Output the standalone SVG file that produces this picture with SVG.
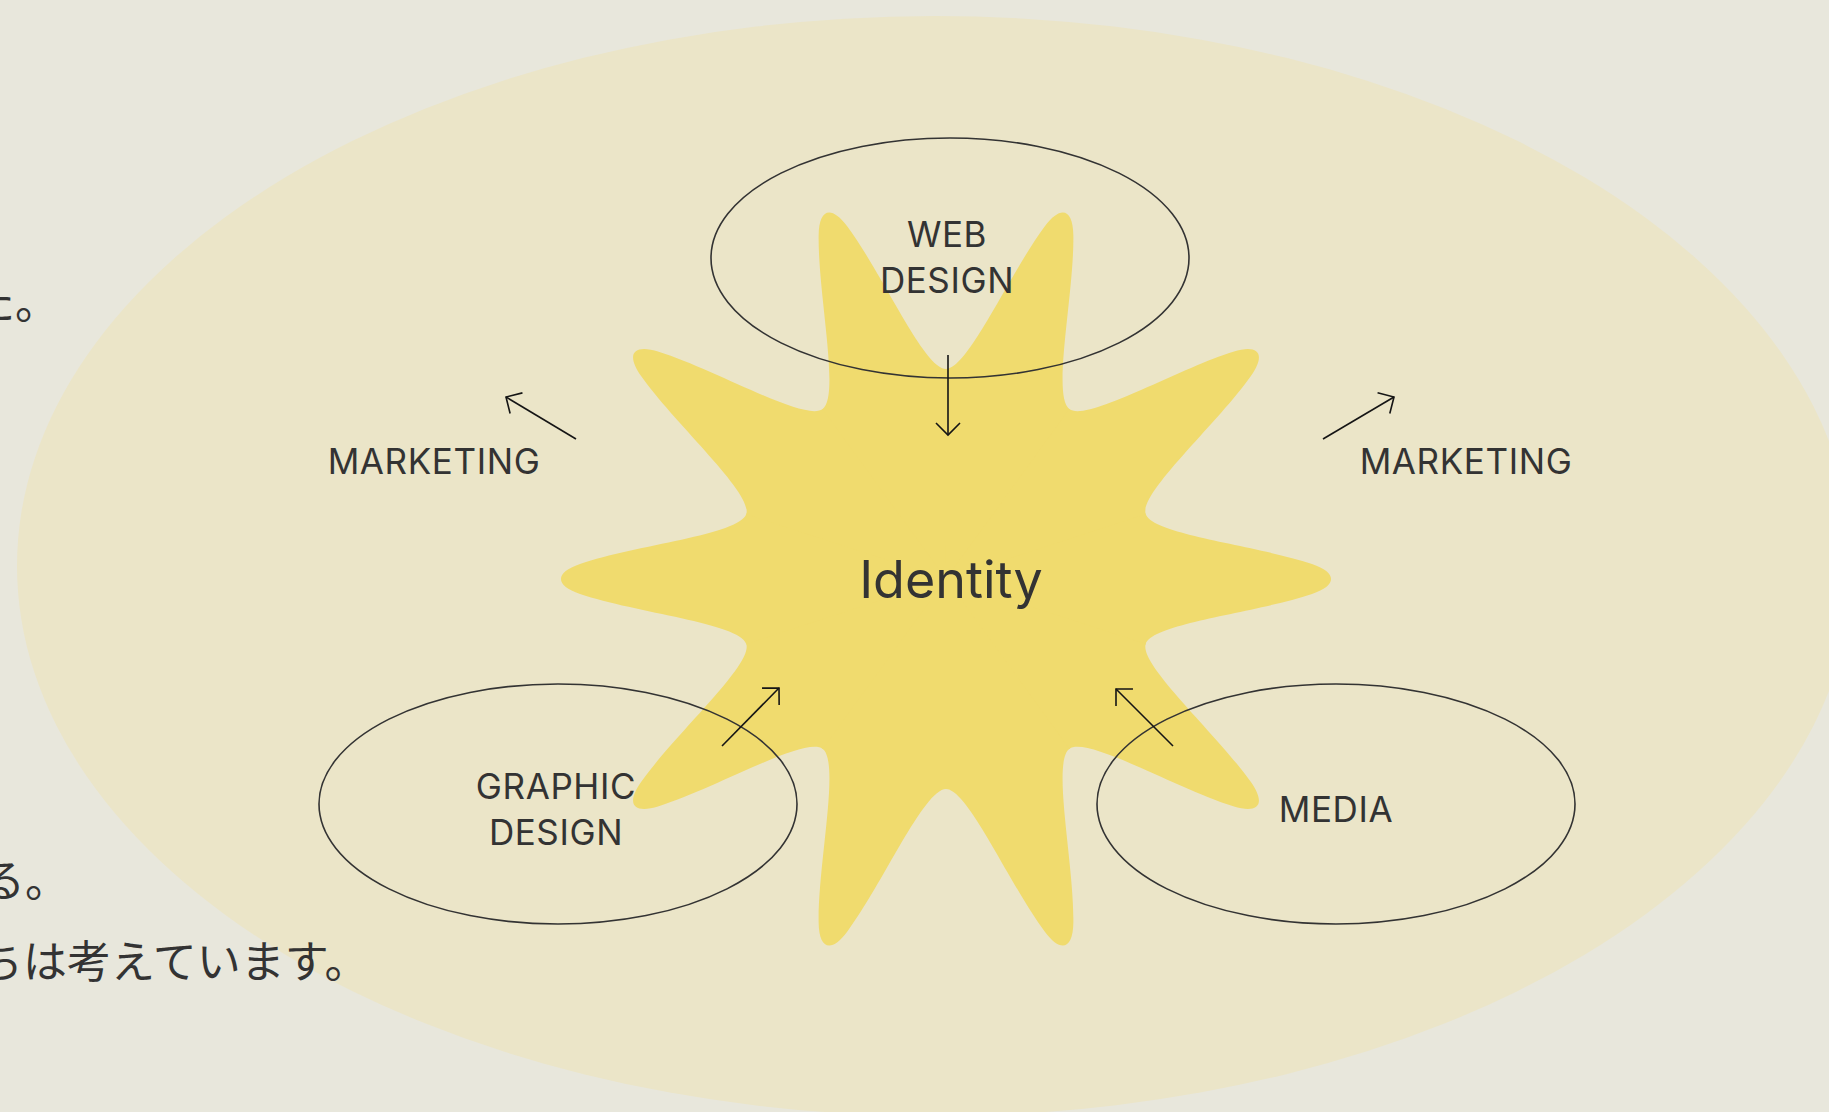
<svg xmlns="http://www.w3.org/2000/svg" xmlns:xlink="http://www.w3.org/1999/xlink" width="1829" height="1112" viewBox="0 0 1829 1112">
  <style>
    .page { fill: #E8E7DC; }
    .halo { fill: #EBE5C8; }
    .star { fill: #F0DB6E; }
    .ring { fill: none; stroke: #333333; stroke-width: 1.6; }
    .label { font-family: Inter, "Noto Sans", "Liberation Sans", sans-serif; font-size: 35px; fill: #333333; text-anchor: middle; letter-spacing: 0.6px; }
    .core { font-family: Inter, "Noto Sans", "Liberation Sans", sans-serif; font-size: 52px; fill: #333333; text-anchor: middle; }
    .jp { font-family: "Noto Sans CJK JP", "Noto Sans", sans-serif; font-size: 44px; fill: #333333; }
    .link { fill: none; stroke: #151515; stroke-width: 1.6; marker-end: url(#open-head); }
  </style>
  <defs>
    <marker id="open-head" markerUnits="userSpaceOnUse" markerWidth="30" markerHeight="30" refX="0" refY="0" orient="auto" overflow="visible">
      <path d="M-12 -12 L0 0 L-12 12" fill="none" stroke="#151515" stroke-width="1.6"/>
    </marker>
    <!-- one ray of the star, pointing along +x from the centre -->
    <path id="ray" d="M0 0 L199.7 -64.9 C206.5 -44 310 -34 366 -15 C391.4 -6.4 391.4 6.4 366 15 C310 34 206.5 44 199.7 64.9 Z"/>
  </defs>

  <!-- page and soft halo -->
  <rect class="page" x="0" y="0" width="1829" height="1112"/>
  <ellipse class="halo" cx="935" cy="566" rx="918" ry="550"/>

  <!-- side copy, running off the left edge -->
  <g id="copy">
    <text class="jp" x="-29" y="319">た。</text>
    <text class="jp" x="-19" y="897">る。</text>
    <text class="jp" x="-21" y="978">ちは考えています。</text>
  </g>

  <!-- central star -->
  <g id="identity">
    <g class="star" transform="translate(946 579)">
      <polygon points="199.7,64.9 123.4,169.9 0,210 -123.4,169.9 -199.7,64.9 -199.7,-64.9 -123.4,-169.9 0,-210 123.4,-169.9 199.7,-64.9"/>
      <use xlink:href="#ray" transform="rotate(0)"/>
      <use xlink:href="#ray" transform="rotate(36)"/>
      <use xlink:href="#ray" transform="rotate(72)"/>
      <use xlink:href="#ray" transform="rotate(108)"/>
      <use xlink:href="#ray" transform="rotate(144)"/>
      <use xlink:href="#ray" transform="rotate(180)"/>
      <use xlink:href="#ray" transform="rotate(216)"/>
      <use xlink:href="#ray" transform="rotate(252)"/>
      <use xlink:href="#ray" transform="rotate(288)"/>
      <use xlink:href="#ray" transform="rotate(324)"/>
    </g>
    <text class="core" x="951" y="598">Identity</text>
  </g>

  <g id="web-design">
    <ellipse class="ring" cx="950" cy="258" rx="239" ry="120"/>
    <text class="label" x="947" y="247">WEB</text>
    <text class="label" x="947" y="293">DESIGN</text>
  </g>

  <g id="marketing-left">
    <text class="label" x="434" y="474">MARKETING</text>
  </g>

  <g id="marketing-right">
    <text class="label" x="1466" y="474">MARKETING</text>
  </g>

  <g id="graphic-design">
    <ellipse class="ring" cx="558" cy="804" rx="239" ry="120"/>
    <text class="label" x="556" y="799">GRAPHIC</text>
    <text class="label" x="556" y="845">DESIGN</text>
  </g>

  <g id="media">
    <ellipse class="ring" cx="1336" cy="804" rx="239" ry="120"/>
    <text class="label" x="1336" y="822">MEDIA</text>
  </g>

  <!-- connectors -->
  <g id="connectors">
    <line class="link" x1="948" y1="355" x2="948" y2="435"/>
    <line class="link" x1="576" y1="439" x2="506" y2="397"/>
    <line class="link" x1="1323" y1="439" x2="1394" y2="397"/>
    <line class="link" x1="722" y1="746" x2="779" y2="688"/>
    <line class="link" x1="1173" y1="746" x2="1116" y2="689"/>
  </g>
</svg>
